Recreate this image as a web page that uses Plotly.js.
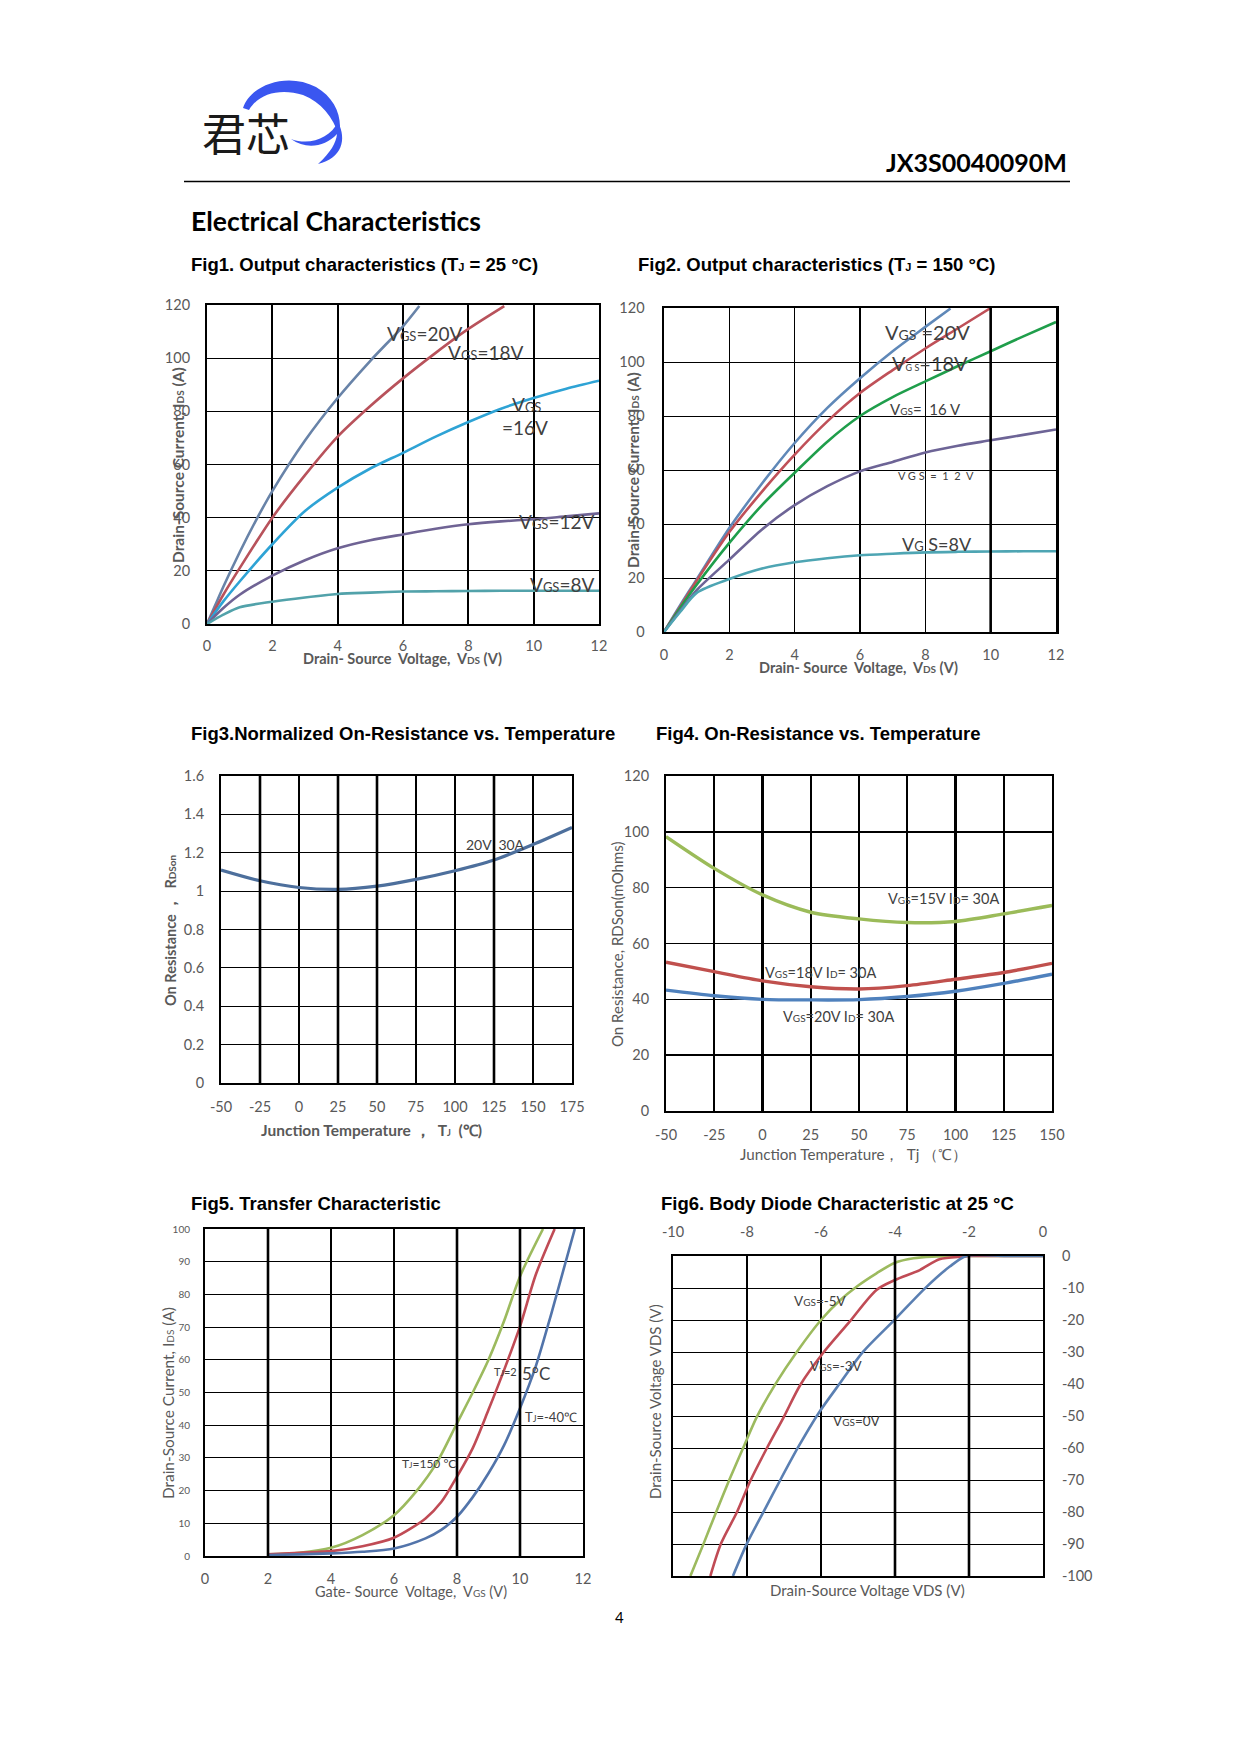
<!DOCTYPE html>
<html><head><meta charset="utf-8">
<script src="https://cdn.plot.ly/plotly-3.0.1.min.js"></script>
<style>
body{margin:0;background:#fff}
#page{position:relative;width:1240px;height:1754px;overflow:hidden}
#chart{position:absolute;left:0;top:0;width:1240px;height:1754px}
#logo{position:absolute;left:0;top:0;pointer-events:none}
</style>
</head><body>
<div id="page">
<div id="chart"></div>
<svg id="logo" width="400" height="200" viewBox="0 0 400 200">
  <path d="M243,108 C251,84 288,72 316,87 C335,98 343,117 339,136 C333,117 321,102 303,95 C281,88 259,93 249,110 Z" fill="#3a56f0"/>
  <path d="M291,139 C310,146 330,138 338,122 C347,140 342,158 318,164 C331,152 336,143 337,134 C325,147 306,150 291,139 Z" fill="#3a56f0"/>
</svg>
</div>
<script>
// ---------------- DATA ----------------
// Fig1: Output characteristics Tj = 25 C   (VDS in V, IDS in A)
const f1_vds_20 = [0,0.25,0.5,1,1.5,2,3,4,5,6,6.5];
const f1_ids_20 = [0,7,14,27,39,50,69,85,99,112,119.6];
const f1_vds_18 = [0,0.5,1,2,3,4,5,6,7,8,9.1];
const f1_ids_18 = [0,11,21,40,56,70.5,82,92.4,102,111,119.6];
const f1_vds = [0,0.5,1,2,3,4,5,6,7,8,9,10,11,12];
const f1_ids_16 = [0,8.5,16,30,42.5,51.3,58.5,64.4,70.5,76,81,85,88.5,91.5];
const f1_ids_12 = [0,6,11,18.2,24,28.5,31.5,33.7,35.8,37.5,38.6,39.4,40.5,41.6];
const f1_ids_8  = [0,3.5,6.3,8.4,10,11.3,11.8,12.2,12.3,12.4,12.5,12.5,12.5,12.5];

// Fig2: Output characteristics Tj = 150 C
const f2_vds_20 = [0,0.5,1,2,3,4,5,6,7,8,8.77];
const f2_ids_20 = [0,10,19.5,38.5,55,70,83,94,104,113,119.8];
const f2_vds_18 = [0,0.5,1,2,3,4,5,6,7,8,9,10];
const f2_ids_18 = [0,9.5,19,37,52,65.7,78,88.5,97,105,112.5,120];
const f2_vds = [0,0.5,1,2,3,4,5,6,7,8,9,10,11,12];
const f2_ids_16 = [0,9,17.5,33,47,59,70.5,80,87,92.8,98.5,104,109.5,114.8];
const f2_ids_12 = [0,8,15.5,26.8,38,47,54,59.5,63,66.5,69,71,73,75];
const f2_ids_8  = [0,7.5,14.5,19.6,23.5,25.8,27.3,28.4,29,29.5,29.7,29.8,29.9,29.9];

// Fig3: Normalized on-resistance vs temperature
const f3_tj = [-50,-25,0,25,50,75,100,125,150,175];
const f3_rn = [1.11,1.054,1.019,1.009,1.026,1.061,1.106,1.162,1.243,1.332];

// Fig4: On-resistance (mOhm) vs temperature
const f4_tj = [-50,-25,0,25,50,75,100,125,150];
const f4_r15 = [98.3,86.9,77.4,71.2,68.8,67.5,67.9,70.6,73.6];
const f4_r18 = [53.3,49.9,46.6,44.5,43.7,44.9,47.2,49.6,52.9];
const f4_r20 = [43.3,41.3,40.0,39.8,39.9,41.0,42.9,45.7,49.0];

// Fig5: Transfer characteristic
const f5_vgs_150 = [2,3,4,5,6,6.7,7.35,8,8.5,9,9.5,10,10.73];
const f5_ids_150 = [0.5,1,2.5,6.4,12.5,19.7,28.4,40.6,50,60,72,85.5,100];
const f5_vgs_25 = [2,3,4,5,6,7,7.5,8,8.5,9,9.5,10,10.5,11.1];
const f5_ids_25 = [0.5,1,1.5,3,5.6,11.5,16.5,24.3,33,44.7,57,70.2,86,100];
const f5_vgs_m40 = [2,3,4,5,6,7,7.5,8,8.5,9,9.5,10,10.5,11,11.74];
const f5_ids_m40 = [0.3,0.5,0.8,1.3,2.3,5.4,8,12,18,25.3,34,45.2,58,74.3,100];

// Fig6: Body diode characteristic at 25 C
const f6_v_m5 = [0,-1,-2,-3,-3.5,-4,-4.5,-5.04,-5.5,-6,-6.65,-7.22,-7.73,-8.09,-8.48,-8.83,-9.17,-9.53];
const f6_i_m5 = [0,0,0,-0.2,-0.7,-2.1,-5.4,-9.6,-14,-20,-29.9,-39.8,-50.2,-59.6,-70,-79.9,-89.8,-100];
const f6_v_m3 = [0,-1,-2,-2.16,-2.8,-3.33,-4,-4.5,-5.26,-5.95,-6.56,-7.01,-7.46,-7.9,-8.27,-8.7,-8.99];
const f6_i_m3 = [0,0,0,-0.2,-1,-4.4,-7.5,-10.6,-21,-30.4,-40.3,-50.4,-60,-70,-80,-89.8,-100];
const f6_v_0 = [0,-1,-2.07,-2.52,-3.19,-4,-4.86,-5.49,-6.07,-6.61,-7.1,-7.55,-8,-8.38];
const f6_i_0 = [0,0,0,-3.3,-10.1,-19.8,-29.9,-39.8,-49.2,-59.6,-70,-79.9,-89.8,-100];

// tick labels (plain hyphen minus as in the original)
const f3_xticks = [-50,-25,0,25,50,75,100,125,150,175];
const f3_xlabels = ['-50','-25','0','25','50','75','100','125','150','175'];
const f4_xticks = [-50,-25,0,25,50,75,100,125,150];
const f4_xlabels = ['-50','-25','0','25','50','75','100','125','150'];
const f6_xticks = [-10,-8,-6,-4,-2,0];
const f6_xlabels = ['-10','-8','-6','-4','-2','0'];
const f6_yticks = [0,-10,-20,-30,-40,-50,-60,-70,-80,-90,-100];
const f6_ylabels = ['0','-10','-20','-30','-40','-50','-60','-70','-80','-90','-100'];

// heavier grid lines
const f2_thick = [10];
const f3_thick = [-25,25,50,125];
const f5_thick = [2,8,10];
const f6_thick = [-4,-2];

// ---------------- LAYOUT HELPERS ----------------
const W = 1240, H = 1754;
const PX = x => x / W, PY = y => 1 - y / H;
const GREY = '#595959';
const TF = {family:'Lato, sans-serif', size:14.5, color:GREY};

function xax(l, r, range, dtick, anchor, extra) {
  return Object.assign({domain:[PX(l),PX(r)], range, dtick, tick0:range[0], anchor,
    showgrid:true, gridcolor:'#000', gridwidth:1.3, showline:true, mirror:true,
    linecolor:'#000', linewidth:2, zeroline:false, ticks:'', tickfont:TF, ticklabelstandoff:8, fixedrange:true}, extra||{});
}
function yax(t, b, range, dtick, anchor, extra) {
  return Object.assign({domain:[PY(b),PY(t)], range, dtick, tick0:range[0], anchor,
    showgrid:true, gridcolor:'#000', gridwidth:1, showline:true, mirror:true,
    linecolor:'#000', linewidth:2, zeroline:false, ticks:'', tickfont:TF, ticklabelstandoff:11, fixedrange:true}, extra||{});
}
function tr(x, y, xa, ya, color, width) {
  return {x, y, xaxis:xa, yaxis:ya, type:'scatter', mode:'lines',
    line:{color, width:width||2.6, shape:'spline', smoothing:0.8}, hoverinfo:'skip'};
}
function ann(x, y, text, size, opt) {
  return Object.assign({xref:'paper', yref:'paper', x:PX(x), y:PY(y), text, showarrow:false,
    xanchor:'center', yanchor:'middle', font:{family:'Lato, sans-serif', size, color:'#404040'}}, opt||{});
}
function vline(xv, xa, ya, w) {
  return {type:'line', xref:xa, yref:ya+' domain', x0:xv, x1:xv, y0:0, y1:1, line:{color:'#000', width:w||2.6}, layer:'above'};
}
const TITLEF = {family:'Liberation Sans, Arial', size:18.5, color:'#000'};
const AX = (size, bold) => ({family:'Lato, sans-serif', size, color:GREY});

const GREEN='#9bbb59', RED='#c0504d', BLUE='#4f81bd';

const data = [
  tr(f1_vds_20, f1_ids_20, 'x', 'y', '#6883a8'),
  tr(f1_vds_18, f1_ids_18, 'x', 'y', '#b8525b'),
  tr(f1_vds, f1_ids_16, 'x', 'y', '#2ea3d5'),
  tr(f1_vds, f1_ids_12, 'x', 'y', '#6f6394'),
  tr(f1_vds, f1_ids_8,  'x', 'y', '#52a2aa'),

  tr(f2_vds_20, f2_ids_20, 'x2', 'y2', '#5f88b8'),
  tr(f2_vds_18, f2_ids_18, 'x2', 'y2', '#bf5058'),
  tr(f2_vds, f2_ids_16, 'x2', 'y2', '#1f9e4b'),
  tr(f2_vds, f2_ids_12, 'x2', 'y2', '#6d6496'),
  tr(f2_vds, f2_ids_8,  'x2', 'y2', '#4ea5b3'),

  tr(f3_tj, f3_rn, 'x3', 'y3', '#4d6f9c', 3.2),

  tr(f4_tj, f4_r15, 'x4', 'y4', GREEN, 3.4),
  tr(f4_tj, f4_r18, 'x4', 'y4', RED, 3.4),
  tr(f4_tj, f4_r20, 'x4', 'y4', BLUE, 3.4),

  tr(f5_vgs_150, f5_ids_150, 'x5', 'y5', '#9cba5e'),
  tr(f5_vgs_25,  f5_ids_25,  'x5', 'y5', '#c04b55'),
  tr(f5_vgs_m40, f5_ids_m40, 'x5', 'y5', '#5274aa'),

  tr(f6_v_m5, f6_i_m5, 'x6', 'y6', '#9cba5e'),
  tr(f6_v_m3, f6_i_m3, 'x6', 'y6', '#c04b55'),
  tr(f6_v_0,  f6_i_0,  'x6', 'y6', '#5a7fb2')
];

const small = s => '<span style="font-size:'+s+'px">';
const annotations = [
  // header
  ann(200, 132, '君芯', 44, {xanchor:'left', font:{family:'Noto Sans CJK SC', size:44, color:'#1a1a1a'}}),
  ann(1069, 162, '<b>JX3S0040090M</b>', 25, {xanchor:'right', font:{family:'Lato, sans-serif', size:25, color:'#000'}}),
  ann(189, 221, '<b>Electrical Characteristics</b>', 26.5, {xanchor:'left', font:{family:'Lato, sans-serif', size:26.5, color:'#000'}}),
  // figure titles
  ann(189, 264, '<b>Fig1. Output characteristics (T'+small(11)+'J</span> = 25 °C)</b>', 18.5, {xanchor:'left', font:TITLEF}),
  ann(636, 264, '<b>Fig2. Output characteristics (T'+small(11)+'J</span> = 150 °C)</b>', 18.5, {xanchor:'left', font:TITLEF}),
  ann(189, 733, '<b>Fig3.Normalized On-Resistance vs. Temperature</b>', 18.5, {xanchor:'left', font:TITLEF}),
  ann(654, 733, '<b>Fig4. On-Resistance vs. Temperature</b>', 18.5, {xanchor:'left', font:TITLEF}),
  ann(189, 1203, '<b>Fig5. Transfer Characteristic</b>', 18.5, {xanchor:'left', font:TITLEF}),
  ann(659, 1203, '<b>Fig6. Body Diode Characteristic at 25 °C</b>', 18.5, {xanchor:'left', font:TITLEF}),
  ann(619, 1617, '4', 15, {font:{family:'Lato, sans-serif', size:15, color:'#000'}}),

  // axis titles
  ann(178, 465, '<b>Drain-Source Current, I'+small(10)+'DS</span> (A)</b>', 15.5, {textangle:-90, font:AX(15.5)}),
  ann(402, 658, '<b>Drain- Source  Voltage,  V'+small(10)+'DS</span> (V)</b>', 14.5, {font:AX(14.5)}),
  ann(633, 470, '<b>Drain-Source Current, I'+small(10)+'DS</span> (A)</b>', 15.5, {textangle:-90, font:AX(15.5)}),
  ann(858, 667, '<b>Drain- Source  Voltage,  V'+small(10)+'DS</span> (V)</b>', 14.5, {font:AX(14.5)}),
  ann(170, 930, '<b>On Resistance ，  R'+small(10)+'DSon</span></b>', 14.5, {textangle:-90, font:AX(14.5)}),
  ann(371, 1130, '<b>Junction Temperature ，  T'+small(9)+'J</span>  (℃)</b>', 15.5, {font:AX(15.5)}),
  ann(617, 945, 'On Resistance, RDSon(mOhms)', 15, {textangle:-90, font:AX(15)}),
  ann(853, 1154, 'Junction Temperature，  Tj （℃）', 15.2, {font:AX(15.2)}),
  ann(168, 1403, 'Drain-Source Current, I'+small(10)+'DS</span> (A)', 15.4, {textangle:-90, font:AX(15.4)}),
  ann(411, 1591, 'Gate- Source  Voltage,  V'+small(10)+'GS</span> (V)', 14.5, {font:AX(14.5)}),
  ann(655, 1402, 'Drain-Source Voltage VDS (V)', 15, {textangle:-90, font:AX(15)}),
  ann(867, 1590, 'Drain-Source Voltage VDS (V)', 15, {font:AX(15)}),

  // curve labels fig1
  ann(425, 333, 'V'+small(13)+'GS</span>=20V', 19),
  ann(486, 352, 'V'+small(13)+'GS</span>=18V', 19),
  ann(526, 404, 'V'+small(13)+'GS</span>', 19),
  ann(525, 427, '=16V', 19),
  ann(556, 521, 'V'+small(13)+'GS</span>=12V', 19),
  ann(562, 585, 'V'+small(13)+'GS</span>=8V', 19),
  // fig2
  ann(927, 332, 'V'+small(14)+'GS</span> =20V', 20),
  ann(930, 363, 'V'+small(9)+'G S</span>=18V', 20),
  ann(925, 409, 'V'+small(10)+'GS</span>=  16 V', 15),
  ann(936, 476, 'V G S  =  1  2  V', 11),
  ann(937, 544, 'V'+small(13)+'G</span> S=8V', 18),
  // fig3
  ann(495, 844, '20V  30A', 14),
  // fig4
  ann(944, 898, 'V'+small(10)+'GS</span>=15V I'+small(10)+'D</span>= 30A', 14.5),
  ann(820, 972, 'V'+small(10)+'GS</span>=18V I'+small(10)+'D</span>= 30A', 14.5),
  ann(838, 1017, 'V'+small(10)+'GS</span>=20V I'+small(10)+'D</span>= 30A', 14.5),
  // fig5
  ann(429, 1463, 'T'+small(8)+'J</span>=150 °C', 12),
  ann(505, 1371, 'T'+small(8)+'J</span>=2', 11),
  ann(536, 1373, '5°C', 17),
  ann(551, 1417, 'T'+small(9)+'J</span>=-40℃', 13),
  // fig6
  ann(820, 1301, 'V'+small(10)+'GS</span>=-5V', 13.5),
  ann(836, 1366, 'V'+small(10)+'GS</span>=-3V', 13.5),
  ann(857, 1421, 'V'+small(10)+'GS</span>=0V', 13.5)
];

const shapes = [
  {type:'line', xref:'paper', yref:'paper', x0:PX(184), x1:PX(1070), y0:PY(181.5), y1:PY(181.5), line:{color:'#000', width:1.6}},
  ...f2_thick.map(v => vline(v, 'x2', 'y2', 2.6)),
  ...f3_thick.map(v => vline(v, 'x3', 'y3', 2.6)),
  ...f5_thick.map(v => vline(v, 'x5', 'y5', 2.6)),
  ...f6_thick.map(v => vline(v, 'x6', 'y6', 2.6))
];

const layout = {
  width:W, height:H, margin:{l:0,r:0,t:0,b:0}, showlegend:false,
  paper_bgcolor:'#fff', plot_bgcolor:'#fff',
  xaxis:  xax(207, 599, [0,12], 2, 'y', {gridwidth:2}),
  yaxis:  yax(305, 624, [0,120], 20, 'x', {ticklabelstandoff:12}),
  xaxis2: xax(664, 1056, [0,12], 2, 'y2', {ticklabelstandoff:9}),
  yaxis2: yax(308, 632, [0,120], 20, 'x2', {ticklabelstandoff:14, linewidth:2.5}),
  xaxis3: xax(221, 572, [-50,175], 25, 'y3', {tickmode:'array', tickvals:f3_xticks, ticktext:f3_xlabels, ticklabelstandoff:10}),
  yaxis3: yax(776, 1083, [0,1.6], 0.2, 'x3', {ticklabelstandoff:12}),
  xaxis4: xax(666, 1052, [-50,150], 25, 'y4', {gridwidth:2.2, tickmode:'array', tickvals:f4_xticks, ticktext:f4_xlabels, ticklabelstandoff:10}),
  yaxis4: yax(776, 1111, [0,120], 20, 'x4', {gridwidth:1.5, ticklabelstandoff:12}),
  xaxis5: xax(205, 583, [0,12], 2, 'y5', {ticklabelstandoff:9}),
  yaxis5: yax(1229, 1556, [0,100], 10, 'x5', {tickfont:{family:'Lato, sans-serif', size:10, color:GREY}, ticklabelstandoff:11}),
  xaxis6: xax(673, 1043, [-10,0], 2, 'y6', {side:'top', tickmode:'array', tickvals:f6_xticks, ticktext:f6_xlabels, ticklabelstandoff:11}),
  yaxis6: yax(1256, 1576, [-100,0], 10, 'x6', {side:'right', tickmode:'array', tickvals:f6_yticks, ticktext:f6_ylabels, ticklabelstandoff:14}),
  annotations, shapes
};

Plotly.newPlot('chart', data, layout, {staticPlot:true, displayModeBar:false});
</script>
</body></html>
